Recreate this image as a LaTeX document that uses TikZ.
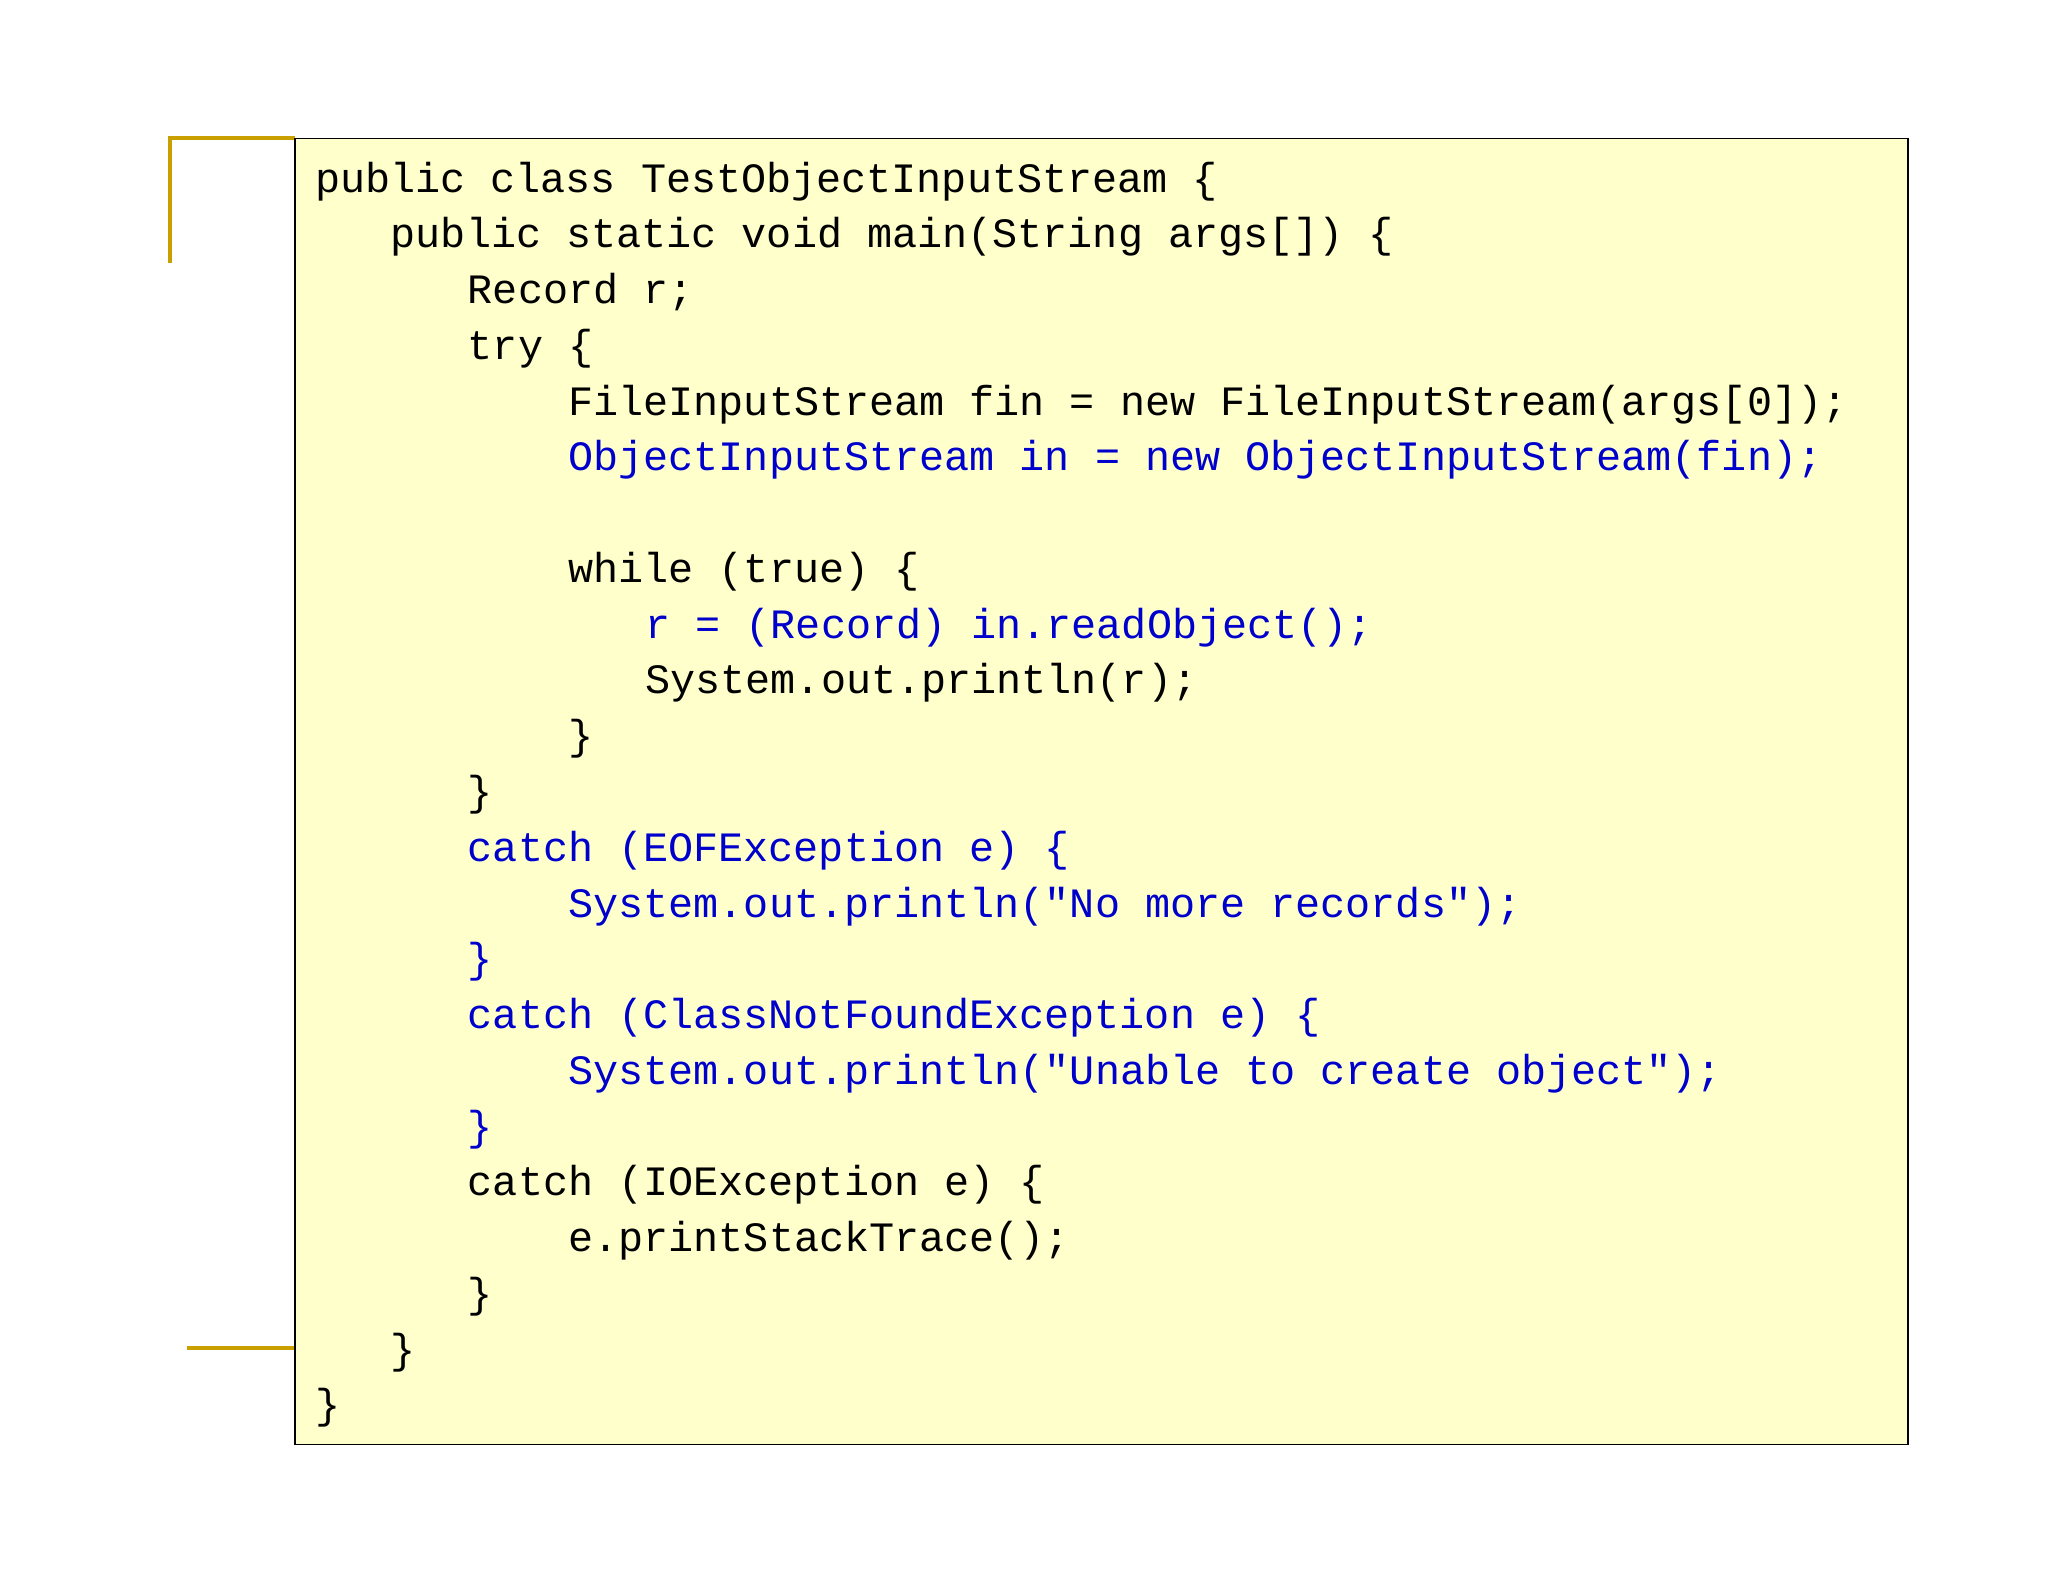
\documentclass[tikz,border=0pt]{standalone}
\usepackage{fontspec}
\newfontfamily\code{Liberation Mono}
\definecolor{boxfill}{HTML}{FFFFCC}
\definecolor{codeblue}{HTML}{0000CC}
\definecolor{gold}{HTML}{C9A000}
\begin{document}
\begin{tikzpicture}[x=1pt,y=-1pt,
  ln/.style={anchor=base west,inner sep=0pt,font=\code\fontsize{32}{38}\selectfont},
  bl/.style={ln,text=codeblue}]
\useasboundingbox (0,0) rectangle (1568,1211);
\fill[white] (0,0) rectangle (1568,1211);
\draw[gold,line width=3pt] (130,201) -- (130,106) -- (226,106);
\draw[gold,line width=3pt] (143,1032) -- (226,1032);
\draw[black,line width=1.2pt,fill=boxfill] (226,106) rectangle (1461,1106);
\def\L#1{147+42.7*#1}
\node[ln] (l0) at (241,{\L{0}}) {public class TestObjectInputStream \{};
\node[ln] (l1) at (299,{\L{1}}) {public static void main(String args[]) \{};
\node[ln] (l2) at (358,{\L{2}}) {Record r;};
\node[ln] (l3) at (358,{\L{3}}) {try \{};
\node[ln] (l4) at (435,{\L{4}}) {FileInputStream fin = new FileInputStream(args[0]);};
\node[bl] (l5) at (435,{\L{5}}) {ObjectInputStream in = new ObjectInputStream(fin);};
\node[ln] (l7) at (435,{\L{7}}) {while (true) \{};
\node[bl] (l8) at (494,{\L{8}}) {r = (Record) in.readObject();};
\node[ln] (l9) at (494,{\L{9}}) {System.out.println(r);};
\node[ln] (l10) at (435,{\L{10}}) {\}};
\node[ln] (l11) at (358,{\L{11}}) {\}};
\node[bl] (l12) at (358,{\L{12}}) {catch (EOFException e) \{};
\node[bl] (l13) at (435,{\L{13}}) {System.out.println("No more records");};
\node[bl] (l14) at (358,{\L{14}}) {\}};
\node[bl] (l15) at (358,{\L{15}}) {catch (ClassNotFoundException e) \{};
\node[bl] (l16) at (435,{\L{16}}) {System.out.println("Unable to create object");};
\node[bl] (l17) at (358,{\L{17}}) {\}};
\node[ln] (l18) at (358,{\L{18}}) {catch (IOException e) \{};
\node[ln] (l19) at (435,{\L{19}}) {e.printStackTrace();};
\node[ln] (l20) at (358,{\L{20}}) {\}};
\node[ln] (l21) at (299,{\L{21}}) {\}};
\node[ln] (l22) at (241,{\L{22}}) {\}};
\end{tikzpicture}
\end{document}
